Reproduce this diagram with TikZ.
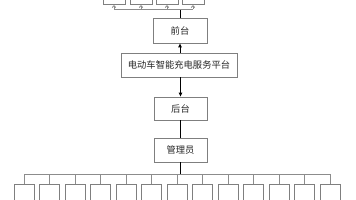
\documentclass[tikz,border=0pt]{standalone}
\usepackage{fontspec}
\setmainfont{Noto Sans CJK SC}
\usetikzlibrary{arrows.meta}
\definecolor{boxgray}{HTML}{7F7F7F}
\definecolor{linegray}{HTML}{8C8C8C}
\begin{document}
\begin{tikzpicture}[x=1pt,y=-1pt,
  box/.style={draw=boxgray,line width=0.8pt,fill=white,inner sep=0pt,
    font=\fontsize{9.3}{10}\selectfont,text=black!85},
  smallbox/.style={draw=boxgray,line width=0.8pt,fill=white,inner sep=0pt,
    minimum width=20pt,minimum height=30pt},
  trunk/.style={draw=black,line width=0.9pt},
  bus/.style={draw=linegray,line width=0.8pt},
  tip/.style={-{Triangle[length=4pt,width=3.5pt]}},
  smalltip/.style={-{Straight Barb[length=2pt,width=3.5pt]}}]
\useasboundingbox (0,0) rectangle (356,200);
% main column
\node[box,minimum width=54pt,minimum height=25pt] (front) at (180,30.5) {前台};
\node[box,minimum width=116pt,minimum height=24pt] (plat) at (179,65) {电动车智能充电服务平台};
\node[box,minimum width=53pt,minimum height=23pt] (back) at (180.5,108.5) {后台};
\node[box,minimum width=53pt,minimum height=24pt] (admin) at (180.5,150) {管理员};
% top boxes
\foreach \i/\x in {1/114,2/141,3/167,4/193}{
  \node[smallbox,minimum width=22pt,anchor=south] (t\i) at (\x,5) {};
}
\coordinate (topbus) at (180,9);
\draw[trunk] (front.north) -- (topbus);
\draw[bus] (t1.south |- topbus) -- (t4.south |- topbus);
\foreach \i in {1,...,4}{
  \draw[bus,smalltip] (t\i.south |- topbus) -- (t\i.south);
}
% arrows in main column
\draw[trunk,tip] (plat.north -| front.south) -- (front.south);
\draw[trunk,tip] (plat.south -| back.north) -- (back.north);
\draw[trunk] (back.south) -- (admin.north);
% bottom boxes
\foreach \i in {1,...,13}{
  \pgfmathsetmacro{\bx}{24+25.5*(\i-1)}
  \node[smallbox,anchor=north] (b\i) at (\bx,184) {};
}
\coordinate (botbus) at (180.5,174.5);
\draw[bus] (b1.north |- botbus) -- (b13.north |- botbus);
\draw[trunk] (admin.south) -- (botbus);
\foreach \i in {1,...,13}{
  \draw[bus] (b\i.north |- botbus) -- (b\i.north);
}
\end{tikzpicture}
\end{document}
